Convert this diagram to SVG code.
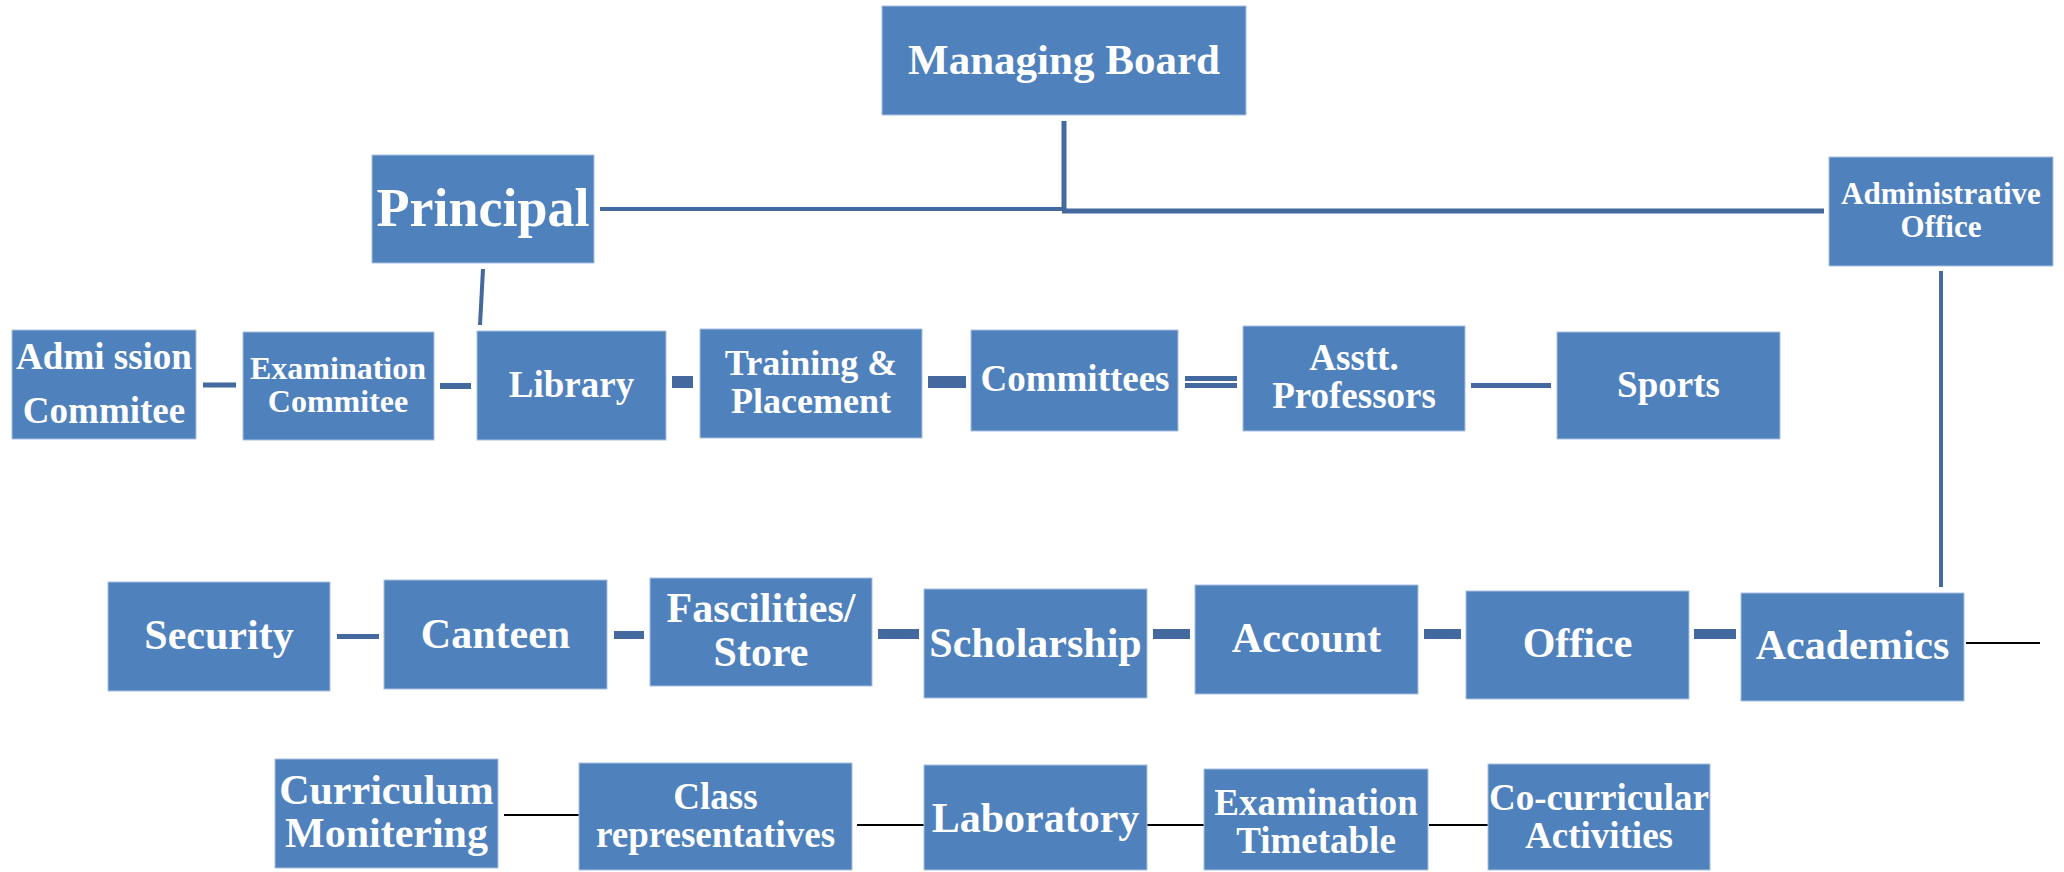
<svg xmlns="http://www.w3.org/2000/svg" width="2064" height="872" viewBox="0 0 2064 872">
<style>
.box{fill:#4F81BD;stroke:#A9C1E0;stroke-width:1}
.t{font-family:"Liberation Serif","Times New Roman",serif;font-weight:bold;fill:#FFFFFF;text-anchor:middle}
.c{stroke:#43699E;fill:none}
.k{stroke:#000000;stroke-width:2;fill:none}
</style>
<rect width="2064" height="872" fill="#FFFFFF"/>
<g id="connectors">
<line class="c" x1="1064" y1="121" x2="1064" y2="211" stroke-width="5"/>
<line class="c" x1="600" y1="209" x2="1064" y2="209" stroke-width="4"/>
<line class="c" x1="1062" y1="211" x2="1824" y2="211" stroke-width="5"/>
<line class="c" x1="1941" y1="271" x2="1941" y2="587" stroke-width="4"/>
<line class="c" x1="483" y1="269" x2="480" y2="325" stroke-width="4"/>
<line class="c" x1="203" y1="385" x2="236" y2="385" stroke-width="5"/>
<line class="c" x1="440" y1="386" x2="471" y2="386" stroke-width="6"/>
<line class="c" x1="672" y1="382" x2="693" y2="382" stroke-width="12"/>
<line class="c" x1="928" y1="382" x2="966" y2="382" stroke-width="12"/>
<line class="c" x1="1185" y1="378.5" x2="1237" y2="378.5" stroke-width="5"/>
<line class="c" x1="1185" y1="385.5" x2="1237" y2="385.5" stroke-width="5"/>
<line class="c" x1="1471" y1="385.5" x2="1551" y2="385.5" stroke-width="5"/>
<line class="c" x1="337" y1="636.5" x2="379" y2="636.5" stroke-width="5"/>
<line class="c" x1="614" y1="635" x2="644" y2="635" stroke-width="8"/>
<line class="c" x1="878" y1="634" x2="919" y2="634" stroke-width="10"/>
<line class="c" x1="1153" y1="634" x2="1190" y2="634" stroke-width="10"/>
<line class="c" x1="1424" y1="634" x2="1461" y2="634" stroke-width="10"/>
<line class="c" x1="1694" y1="634" x2="1736" y2="634" stroke-width="10"/>
<line class="k" x1="1966" y1="643" x2="2040" y2="643"/>
<line class="k" x1="504" y1="815" x2="579" y2="815"/>
<line class="k" x1="857" y1="825" x2="932" y2="825"/>
<line class="k" x1="1139" y1="825" x2="1214" y2="825"/>
<line class="k" x1="1429" y1="825" x2="1503" y2="825"/>
</g>
<g id="managing-board"><rect class="box" x="882" y="6" width="364" height="109"/><text class="t" x="1064" y="74" font-size="43">Managing Board</text></g>
<g id="principal"><rect class="box" x="372" y="155" width="222" height="108"/><text class="t" x="483" y="226" font-size="54">Principal</text></g>
<g id="administrative-office"><rect class="box" x="1829" y="157" width="224" height="109"/><text class="t" x="1941" y="204" font-size="31">Administrative</text><text class="t" x="1941" y="237" font-size="31">Office</text></g>
<g id="admission-commitee"><rect class="box" x="12" y="330" width="184" height="109"/><text class="t" x="104" y="369" font-size="37">Admi ssion</text><text class="t" x="104" y="423" font-size="37">Commitee</text></g>
<g id="examination-commitee"><rect class="box" x="243" y="332" width="191" height="108"/><text class="t" x="338" y="379" font-size="32">Examination</text><text class="t" x="338" y="412" font-size="32">Commitee</text></g>
<g id="library"><rect class="box" x="477" y="331" width="189" height="109"/><text class="t" x="571.5" y="397" font-size="37">Library</text></g>
<g id="training-placement"><rect class="box" x="700" y="329" width="222" height="109"/><text class="t" x="811" y="375" font-size="36">Training &amp;</text><text class="t" x="811" y="413" font-size="36">Placement</text></g>
<g id="committees"><rect class="box" x="971" y="330" width="207" height="101"/><text class="t" x="1075" y="391" font-size="37">Committees</text></g>
<g id="asstt-professors"><rect class="box" x="1243" y="326" width="222" height="105"/><text class="t" x="1354" y="370" font-size="37">Asstt.</text><text class="t" x="1354" y="408" font-size="37">Professors</text></g>
<g id="sports"><rect class="box" x="1557" y="332" width="223" height="107"/><text class="t" x="1668.5" y="397" font-size="37">Sports</text></g>
<g id="security"><rect class="box" x="108" y="582" width="222" height="109"/><text class="t" x="219" y="649" font-size="42">Security</text></g>
<g id="canteen"><rect class="box" x="384" y="580" width="223" height="109"/><text class="t" x="495.5" y="648" font-size="42">Canteen</text></g>
<g id="fascilities-store"><rect class="box" x="650" y="578" width="222" height="108"/><text class="t" x="761" y="622" font-size="42">Fascilities/</text><text class="t" x="761" y="666" font-size="42">Store</text></g>
<g id="scholarship"><rect class="box" x="924" y="589" width="223" height="109"/><text class="t" x="1035.5" y="657" font-size="42">Scholarship</text></g>
<g id="account"><rect class="box" x="1195" y="585" width="223" height="109"/><text class="t" x="1306.5" y="652" font-size="42">Account</text></g>
<g id="office"><rect class="box" x="1466" y="591" width="223" height="108"/><text class="t" x="1577.5" y="657" font-size="42">Office</text></g>
<g id="academics"><rect class="box" x="1741" y="593" width="223" height="108"/><text class="t" x="1852.5" y="659" font-size="42">Academics</text></g>
<g id="curriculum-monitering"><rect class="box" x="275" y="759" width="223" height="109"/><text class="t" x="386.5" y="804" font-size="42">Curriculum</text><text class="t" x="386.5" y="847" font-size="42">Monitering</text></g>
<g id="class-representatives"><rect class="box" x="579" y="763" width="273" height="107"/><text class="t" x="715.5" y="809" font-size="37">Class</text><text class="t" x="715.5" y="847" font-size="37">representatives</text></g>
<g id="laboratory"><rect class="box" x="924" y="765" width="223" height="105"/><text class="t" x="1035.5" y="832" font-size="42">Laboratory</text></g>
<g id="examination-timetable"><rect class="box" x="1204" y="769" width="224" height="101"/><text class="t" x="1316" y="815" font-size="37">Examination</text><text class="t" x="1316" y="853" font-size="37">Timetable</text></g>
<g id="co-curricular-activities"><rect class="box" x="1488" y="764" width="222" height="106"/><text class="t" x="1599" y="810" font-size="37">Co-curricular</text><text class="t" x="1599" y="848" font-size="37">Activities</text></g>
</svg>
